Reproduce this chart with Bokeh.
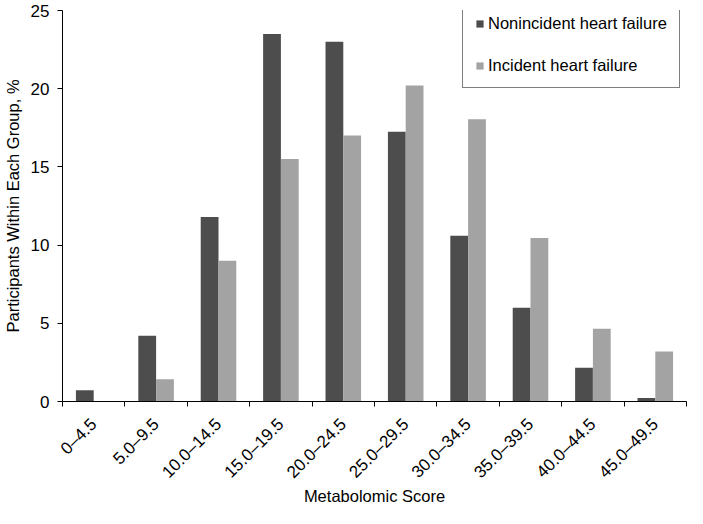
import numpy as np
from math import pi
from bokeh.plotting import figure
from bokeh.models import FixedTicker, Range1d, Legend, LegendItem
from bokeh.embed import file_html
from bokeh.resources import INLINE

categories = ["0–4.5", "5.0–9.5", "10.0–14.5", "15.0–19.5", "20.0–24.5",
              "25.0–29.5", "30.0–34.5", "35.0–39.5", "40.0–44.5", "45.0–49.5"]
nonincident = [0.72, 4.2, 11.8, 23.5, 23.0, 17.25, 10.6, 6.0, 2.15, 0.23]
incident = [0.0, 1.43, 9.0, 15.5, 17.0, 20.2, 18.05, 10.45, 4.65, 3.2]
y_ticks = [0, 5, 10, 15, 20, 25]

FONT = "Liberation Sans"
DARK = "#4d4d4d"
LIGHT = "#a3a3a3"

n = len(categories)
centers = np.arange(n) + 0.5
bw = 0.285

p = figure(width=687, height=508, output_backend="svg", toolbar_location=None,
           x_range=Range1d(0, n), y_range=Range1d(0, 25),
           min_border_left=59, min_border_right=1, min_border_top=10, min_border_bottom=100)
p.outline_line_color = None
p.xgrid.grid_line_color = None
p.ygrid.grid_line_color = None

r1 = p.vbar(x=centers - bw / 2, top=nonincident, width=bw, fill_color=DARK, line_color=None)
r2 = p.vbar(x=centers + bw / 2, top=incident, width=bw, fill_color=LIGHT, line_color=None)

xa = p.xaxis[0]
xa.ticker = FixedTicker(ticks=list(centers), minor_ticks=list(range(n + 1)))
xa.major_label_overrides = {float(c): lab for c, lab in zip(centers, categories)}
xa.major_label_orientation = pi / 4
xa.major_tick_out = 0
xa.major_tick_in = 0
xa.minor_tick_out = 5
xa.minor_tick_in = 0
xa.minor_tick_line_color = "black"
xa.axis_line_color = "black"
xa.major_label_text_font = FONT
xa.major_label_text_font_size = "17px"
xa.major_label_text_color = "black"
xa.major_label_standoff = 15
xa.axis_label = "Metabolomic Score"
xa.axis_label_text_font = FONT
xa.axis_label_text_font_size = "16.5px"
xa.axis_label_text_font_style = "normal"
xa.axis_label_text_color = "black"
xa.axis_label_standoff = -4

ya = p.yaxis[0]
ya.ticker = FixedTicker(ticks=y_ticks)
ya.major_tick_out = 5
ya.major_tick_in = 0
ya.minor_tick_line_color = None
ya.axis_line_color = "black"
ya.major_tick_line_color = "black"
ya.major_label_text_font = FONT
ya.major_label_text_font_size = "17px"
ya.major_label_text_color = "black"
ya.major_label_standoff = 8
ya.axis_label = "Participants Within Each Group, %"
ya.axis_label_text_font = FONT
ya.axis_label_text_font_size = "16.5px"
ya.axis_label_text_font_style = "normal"
ya.axis_label_text_color = "black"
ya.axis_label_standoff = 6

legend = Legend(items=[LegendItem(label="Nonincident heart failure", renderers=[r1]),
                       LegendItem(label="Incident heart failure", renderers=[r2])],
                location=(400, 313))
legend.border_line_color = "black"
legend.border_line_width = 1
legend.background_fill_alpha = 1
legend.padding = 12
legend.margin = 0
legend.spacing = 23
legend.glyph_width = 9
legend.glyph_height = 9
legend.label_height = 18
legend.label_standoff = 4
legend.label_text_font = FONT
legend.label_text_font_size = "16.5px"
legend.label_text_color = "black"
legend.label_text_baseline = "middle"
p.add_layout(legend)

open("out.html", "w").write(file_html(p, INLINE))
